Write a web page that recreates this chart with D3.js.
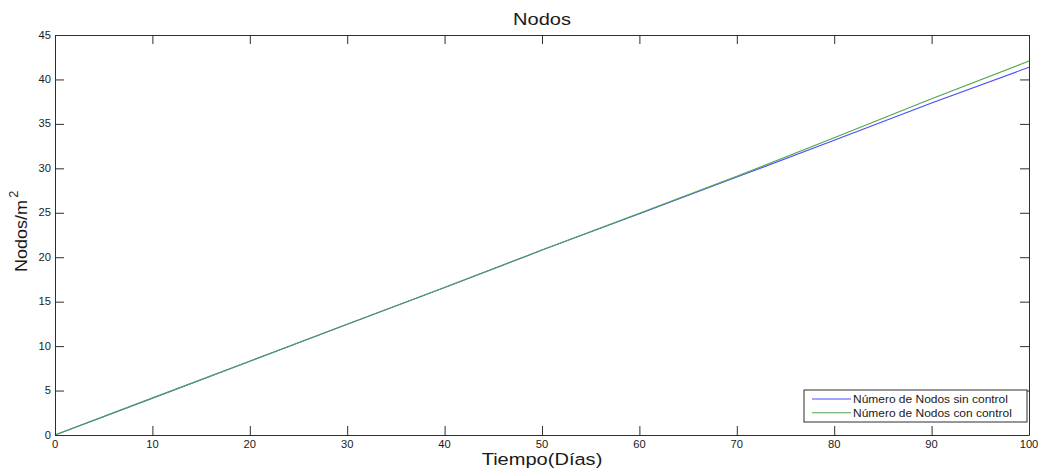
<!DOCTYPE html>
<html><head><meta charset="utf-8">
<script src="https://cdn.jsdelivr.net/npm/d3@7"></script>
<style>body{margin:0;background:#fff}text{font-family:Arial,"Liberation Sans",sans-serif;fill:#1a1a1a}</style>
</head><body><svg id="c" width="1039" height="470"></svg>
<script>
const days = [0,10,20,30,40,50,60,70,80,90,100];
const sinControl = [0,4.15,8.3,12.45,16.6,20.8,24.9,29.02,33.15,37.36,41.37];
const conControl = [0,4.15,8.3,12.45,16.6,20.8,24.95,29.1,33.45,37.82,42.07];
const xTicks = [0,10,20,30,40,50,60,70,80,90,100];
const yTicks = [0,5,10,15,20,25,30,35,40,45];
const seriesNames = ["Número de Nodos sin control","Número de Nodos con control"];
const colors = ["#4a4aff","#4fa64f"];

const svg = d3.select("#c");
const L=55,R=1029,T=35,B=435;
const x = d3.scaleLinear().domain([0,100]).range([L,R]);
const y = d3.scaleLinear().domain([0,45]).range([B,T]);
const axc="#2e2e2e";
const sx=1.18;

// lines
[sinControl,conControl].forEach((vals,i)=>{
  svg.append("path").datum(days.map((d,j)=>[d,vals[j]]))
    .attr("fill","none").attr("stroke",colors[i]).attr("stroke-width",1.1)
    .attr("d",d3.line().x(d=>x(d[0])).y(d=>y(d[1])));
});

// axes box
function ax(gen,tr){
  const g=svg.append("g").attr("transform",tr).call(gen);
  g.select(".domain").attr("stroke",axc);
  g.selectAll(".tick line").attr("stroke",axc);
  return g;
}
ax(d3.axisBottom(x).tickValues(xTicks).tickSize(-9).tickSizeOuter(0).tickFormat(""),`translate(0,${B})`);
ax(d3.axisTop(x).tickValues(xTicks).tickSize(-9).tickSizeOuter(0).tickFormat(""),`translate(0,${T})`);
ax(d3.axisLeft(y).tickValues(yTicks).tickSize(-9).tickSizeOuter(0).tickFormat(""),`translate(${L},0)`);
ax(d3.axisRight(y).tickValues(yTicks).tickSize(-9).tickSizeOuter(0).tickFormat(""),`translate(${R},0)`);

// tick labels
xTicks.forEach(v=>{
  svg.append("text").attr("transform",`translate(${x(v)},${448}) scale(1.12,1)`)
    .attr("text-anchor","middle").attr("font-size",10).text(v);
});
yTicks.forEach(v=>{
  svg.append("text").attr("transform",`translate(${51},${y(v)+3.6}) scale(1.12,1)`)
    .attr("text-anchor","end").attr("font-size",10).text(v);
});

// title and labels
svg.append("text").attr("transform",`translate(${(L+R)/2},25) scale(${sx},1)`)
  .attr("text-anchor","middle").attr("font-size",17).text("Nodos");
svg.append("text").attr("transform",`translate(${(L+R)/2},465) scale(${sx},1)`)
  .attr("text-anchor","middle").attr("font-size",17).text("Tiempo(Días)");
const yt=svg.append("text").attr("transform",`translate(27,272) rotate(-90) scale(1.06,1)`)
  .attr("font-size",17);
yt.append("tspan").text("Nodos/m");
yt.append("tspan").attr("dy",-9).attr("dx",2).attr("font-size",12).text("2");

// legend
const lg=svg.append("g");
lg.append("rect").attr("x",804).attr("y",390).attr("width",223).attr("height",32)
  .attr("fill","#fff").attr("stroke",axc).attr("stroke-width",1);
seriesNames.forEach((n,i)=>{
  const yy=399+i*13.7;
  lg.append("line").attr("x1",812).attr("x2",851).attr("y1",yy).attr("y2",yy)
    .attr("stroke",colors[i]).attr("stroke-width",1.1);
  lg.append("text").attr("transform",`translate(853,${yy+3.8}) scale(1.14,1)`)
    .attr("font-size",10.5).text(n);
});
</script></body></html>
